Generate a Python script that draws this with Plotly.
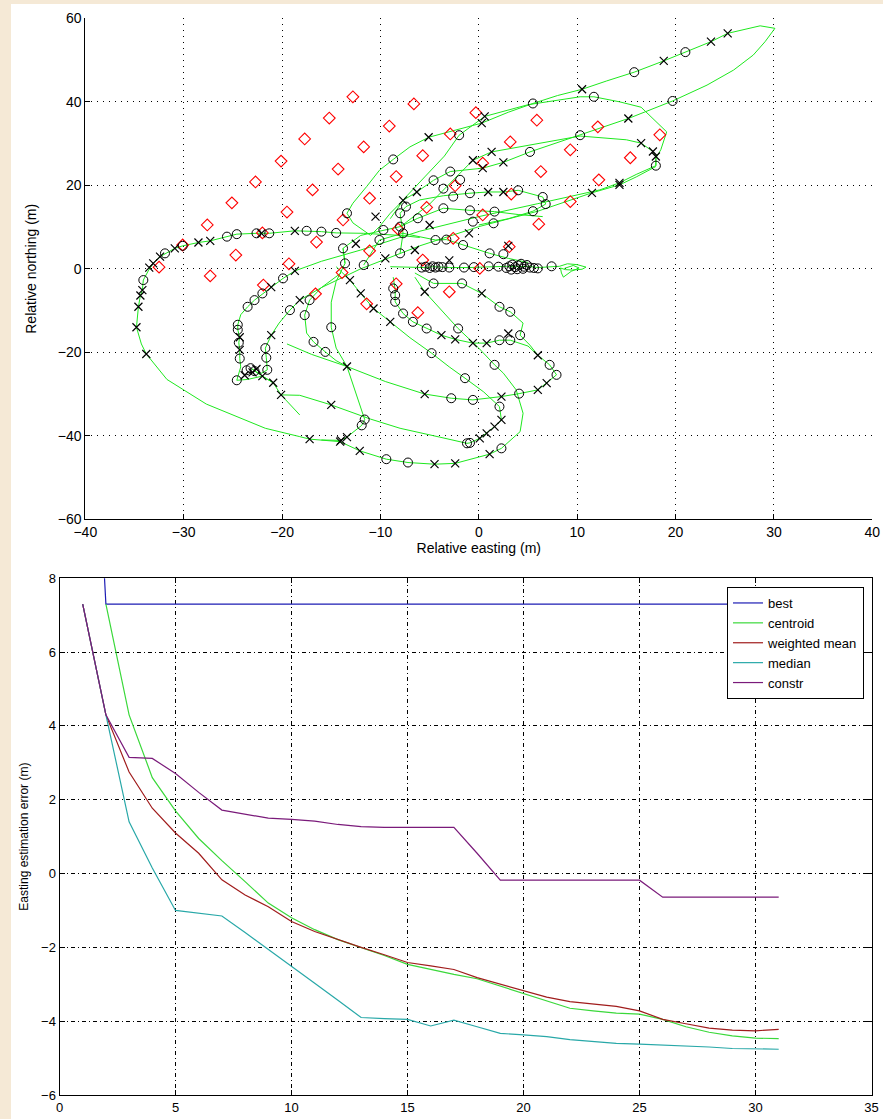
import plotly.graph_objects as go

W, H = 883, 1119

# ---------------- top panel : track (relative easting / northing, m) ----------------
west_loop_e = [-6, -8, -11.7, -14.5, -16, -17.5, -18.7, -21.3, -22.6, -24.6, -25.6, -27.3, -28.5, -30.1, -30.9,
               -31.9, -32.4, -33.1, -33.6, -34.1, -34.2, -34.4, -34.6, -34.8, -34.3, -33.8, -31.7, -27.7, -24.5,
               -21.7, -18.2, -17.2, -14.1, -12.1, -9.4, -7.2, -4.5, -2.4, 1.1, 2.3, 4.2, 4.5, 3.8, 2.5, 1.6, 0,
               -2.1, -4, -5.5, -6.5]
west_loop_n = [7.5, 8, 8.5, 8.6, 8.9, 9.1, 9.1, 8.5, 8.5, 8.3, 7.7, 6.7, 6.3, 5.5, 4.9, 3.7, 2.9, 1.3, -0.5, -2.7,
               -5.1, -6.4, -9.1, -14.0, -18, -20.4, -26.5, -32.4, -35.5, -38.2, -40.2, -40.8, -41.4, -43.6, -45.6,
               -46.4, -46.8, -46.6, -44.4, -43.0, -39.0, -34.6, -29.0, -25, -23, -19, -14.3, -9.5, -5.5, -2]

se_loop_e = [-8.7, -8.5, -8.5, -7.7, -6.7, -5.3, -3.8, -2.4, -0.6, 0.8, 2.1, 3.2, 5.0, 6.0, 7.2, 7.9, 6.9, 6.0,
             4.1, 2.3, -0.6, -2.8, -5.5, -9.5, -13.4, -17.0, -19.5]
se_loop_n = [-2, -5, -7.9, -10.7, -12.7, -14.3, -15.9, -16.9, -17.8, -17.8, -17.1, -17.1, -18.5, -20.7, -23.0,
             -25.4, -27.4, -29.0, -29.9, -30.6, -31.4, -31.0, -30.0, -27.0, -23.4, -20.5, -18.0]

south_loop_e = [-14.5, -13.1, -12.0, -10.7, -9.0, -7.0, -4.8, -3.0, -1.4, 0.5, 2.1, 2.3, 1.6, 0.8, 0.1, -0.9,
                -1.2, -4, -8, -11, -15.0, -18.2, -20.1]
south_loop_n = [0.5, -2.7, -5.9, -9.5, -12.7, -16.5, -20.2, -23.5, -26.2, -29.5, -33.0, -36.2, -37.8, -39.4,
                -40.6, -41.7, -41.8, -40.3, -38.2, -36, -32.6, -30.3, -30.2]

vert_e = [-13.8, -13.6, -14.5, -15.0, -15.0, -14.5, -13.4, -12.5, -11.6, -11.9, -13.4, -14.0, -16.0]
vert_n = [4.9, 1.3, -3, -8, -14.0, -19, -23.4, -30, -36.1, -37.5, -40.3, -41.1, -41.0]

diag1_e = [18.0, 16.0, 14.3, 12.3, 6.0, 0.0, -6.0, -12.0, -16.0, -18.7, -19.9, -21.1, -22.0, -22.8, -23.5,
           -24.2, -24.5, -24.5, -24.3, -24.4, -24.3, -24.3, -24.2, -24.6, -23.5, -22.0, -20.9, -20.1, -18.2]
diag1_n = [24.7, 22.6, 20.6, 18.9, 15.6, 12.5, 9.0, 4.5, 1.8, -0.5, -2.3, -4.4, -5.9, -7.5, -9.1, -11.0, -13.4,
           -14.6, -16.4, -17.7, -19.4, -21.5, -23.5, -26.7, -26.5, -25.7, -27.3, -30.2, -35.0]

diag2_e = [18.0, 16.0, 14.3, 11.5, 6.0, 0.0, -6.0, -12.0, -16.0, -18.2, -19.2, -20.3, -21.1, -21.7, -21.6,
           -21.5, -22.3, -23.1, -22.0, -20.9]
diag2_n = [24.5, 22.0, 20.1, 18.2, 13.8, 10.1, 5.5, 0.0, -4.5, -7.5, -9.9, -13.0, -15.9, -19.0, -21.3, -24.2,
           -25.3, -23.9, -25.7, -27.3]

left_curve_e = [-14.0, -16.0, -17.2, -17.7, -17.5, -16.8, -15.6, -14.5, -13.4]
left_curve_n = [-1.0, -4.5, -7.5, -11.1, -15.4, -17.5, -19.9, -22.0, -23.4]

small_loop_e = [-6.5, -4.6, -1.7, 0.3, 2.1, 3.2, 4.5, 4.2, 5.2, 6.0]
small_loop_n = [-1.0, -3.5, -3.5, -5.9, -9.1, -10.3, -13.0, -15.9, -18.3, -20.7]

ne_trip_e = [-11.0, -12.8, -13.4, -12.8, -11.4, -10.1, -8.7, -7.0, -5.1, -2.0, 0.3, 3.0, 5.5, 8.0, 10.5, 13.0,
             15.8, 18.8, 21.0, 23.6, 25.3, 28.6, 30.1, 29.1, 27.9, 25.9, 23.2, 19.7, 15.2, 10.3, 5.2, 2.5, 0.4,
             -2.9, -4.6, -6.3, -7.7, -9.0, -10.1, -11.0]
ne_trip_n = [8.0, 11.0, 13.3, 15.7, 19.7, 23.6, 26.2, 29.2, 31.5, 33.5, 34.9, 37.5, 39.6, 41.5, 43.0, 45.0, 47.1,
             49.8, 51.9, 54.4, 56.4, 58.2, 57.6, 54.4, 51.2, 47.6, 44.0, 40.2, 36.0, 32.0, 28.0, 25.5, 24.1, 23.3,
             21.2, 18.4, 16.4, 13.3, 10.1, 8.0]

ne_corner_e = [-9.0, -7.5, -5.5, -3.5, -2.0, 0.6, 5.0, 10.3, 11.7, 14.3, 16.5, 19.1, 18.5, 18.0, 18.0]
ne_corner_n = [12.0, 17.0, 22.0, 27.0, 32.0, 36.5, 39.3, 41.2, 41.2, 40.0, 38.7, 32.8, 28.5, 26.5, 24.7]

ne_mid_e = [-8.0, -5.0, -2.5, -0.6, 1.3, 5.0, 10.3, 15.0, 16.5, 17.7, 18.0, 18.0]
ne_mid_n = [10.0, 15.5, 21.5, 26.0, 28.0, 29.5, 31.8, 30.9, 30.1, 28.1, 26.9, 24.7]

arc_q_e = [-8.0, -7.7, -8.0, -7.4, -6.0, -3.6, -0.9, 0.95, 2.5, 4.0, 6.5, 6.8, 5.5, 3.0, 0.0]
arc_q_n = [3.7, 8.5, 13.3, 14.9, 16.5, 17.5, 18.1, 18.4, 18.4, 18.8, 17.2, 15.5, 13.8, 12.0, 10.5]

arc_p_e = [-13.6, -13.8, -12.0, -9.7, -8.0, -6.2, -3.6, -0.9, 1.6, 4.0, 6.5]
arc_p_n = [1.3, 4.9, 8.0, 9.3, 10.1, 12.1, 14.5, 14.0, 13.7, 13.0, 12.5]

arc_r_e = [-11.7, -10.1, -7.7, -4.4, -3.3, -1.6, 1.1, 3.0, 5.0]
arc_r_n = [0.9, 6.9, 8.5, 6.9, 7.0, 5.7, 3.7, 2.5, 1.5]

east_e = [-9.0, -7.0, -5.5, -4.6, -3.0, -1.0, 1.0, 2.8, 3.8, 5.0, 6.0, 7.4, 8.2, 9.0, 10.0, 10.9, 10.5, 9.5,
          8.8, 8.3, 8.4, 8.6, 9.4, 10.2, 9.6, 8.7]
east_n = [0.5, 0.3, 0.3, 0.5, 0.3, 0.3, 0.5, 0.6, 0.5, 0.6, 0.3, 0.5, 0.6, 1.2, 1.0, 0.4, -0.1, -0.3, -0.2, 0.2,
          -1.0, -2.0, -0.6, 0.2, 0.8, 0.1]

circle_e = [-16, -17.5, -21.3, -22.6, -24.6, -25.6, -30.1, -31.9, -34.1, -9.4, -7.2, 2.3, -14.5,
            -8.5, -8.5, -8.7, -7.7, -6.7, -5.3, 2.1, 3.2, 7.2, 7.9, 4.1, -0.6, -2.8,
            -4.8, -1.4, 2.1, -0.9, -1.2,
            -15.0, -11.6, -11.9, -13.8, -13.6,
            -19.9, -22.0, -22.8, -23.5, -24.5, -24.5, -24.4, -24.3, -24.6, -23.2, -22.8, -23.6,
            -19.2, -21.7, -21.6, -21.5,
            -17.2, -17.7, -16.8, -15.6,
            -4.6, -1.7, 2.1, 3.2, 4.2,
            1.6, -2.1,
            -13.4, -8.7, 5.5, 15.8, 21.0, 19.7, 10.3, 5.2, -2.9, -4.6,
            -2.0, 11.7, 18.0,
            -8.0, -7.7, -8.0, -7.4, -3.6, -0.9, 4.0, 6.5, 6.8, 5.5, -2.6, -1.9,
            -9.7, -8.0, -6.2, -3.6, -0.9, 1.6, 1.5, -0.6,
            -10.1, -4.4, -3.3, -1.6, 1.1, 2.5,
            -5.8, -5.4, -5.0, -4.7, -4.4, -4.1, -3.7, -3.0, -1.5, -0.5,
            2.8, 3.1, 3.4, 3.7, 4.0, 4.3, 4.6, 4.9, 5.2, 3.3, 3.9, 4.5, 5.6, 6.0, 7.4, 1.0, 2.0,
            -11.7]
circle_n = [8.9, 9.1, 8.5, 8.5, 8.3, 7.7, 5.5, 3.7, -2.7, -45.6, -46.4, -43.0, 8.6,
            -7.9, -6.3, -4.7, -10.7, -12.7, -14.3, -17.1, -17.1, -23.0, -25.4, -29.9, -31.4, -31.0,
            -20.2, -26.2, -33.0, -41.7, -41.8,
            -14.0, -36.1, -37.5, 4.9, 1.3,
            -2.3, -5.9, -7.5, -9.1, -13.4, -14.6, -17.7, -21.5, -26.7, -23.8, -24.5, -24.3,
            -9.9, -19.0, -21.3, -24.2,
            -7.5, -11.1, -17.5, -19.9,
            -3.5, -3.5, -9.1, -10.3, -15.9,
            -23.0, -14.3,
            13.3, 26.2, 39.6, 47.1, 51.9, 40.2, 32.0, 28.0, 23.3, 21.2,
            32.0, 41.2, 24.7,
            3.7, 8.5, 13.3, 14.9, 19.2, 18.1, 18.8, 17.2, 15.5, 13.8, 17.3, 21.3,
            9.3, 10.1, 12.1, 14.5, 14.0, 13.7, 10.9, 11.3,
            6.9, 6.9, 7.0, 5.7, 3.7, 3.5,
            0.3, 0.5, 0.2, 0.6, 0.3, 0.5, 0.4, 0.3, 0.3, 0.4,
            0.2, 0.6, 1.0, 0.4, 0.8, 1.2, 0.5, 0.9, 0.3, -0.2, -0.1, 0.0, 0.2, 0.1, 0.6, 0.6, 0.5,
            0.9]

cross_e = [-18.7, -22.1, -27.3, -28.5, -30.9, -32.4, -33.1, -33.5, -34.2, -34.4, -34.6, -34.8, -33.8, -17.2,
           -14.1, -12.1, -4.5, -2.4, 1.1, -5.5,
           -3.8, -2.4, -0.6, 0.8, 6.0, 6.9, 6.0, 2.3, -5.5, -13.4,
           -13.1, -12.0, -10.7, -9.0, 2.3, 1.6, 0.8, 0.1, -15.0,
           -13.4, -14.0,
           -18.7, -21.1, -24.3, -24.3, -22.0, -20.9, -20.1, 14.3, -23.0, -23.8, -22.6,
           -18.2, -21.1, 11.5, 14.3,
           0.3, 3.0,
           -5.1, 0.3, 10.5, 18.8, 23.6, 25.3, 15.2, 2.5, 0.4, -6.3, -7.7,
           0.6,
           -0.6, 1.3, 16.5, 17.7, 18.0,
           0.95, 2.5,
           -6.5, -9.5, -12.5, -5.0, -1.0, 3.0, -3.0, -10.5]
cross_n = [9.1, 8.5, 6.7, 6.3, 4.9, 2.9, 1.3, 0.3, -5.1, -6.4, -9.1, -14.0, -20.4, -40.8,
           -41.4, -43.6, -46.8, -46.6, -44.4, -5.5,
           -15.9, -16.9, -17.8, -17.8, -20.7, -27.4, -29.0, -30.6, -30.0, -23.4,
           -2.7, -5.9, -9.5, -12.7, -36.2, -37.8, -39.4, -40.6, -32.6,
           -40.3, -41.1,
           -0.5, -4.4, -16.4, -19.4, -25.7, -27.3, -30.2, 20.6, -24.8, -25.5, -24.0,
           -7.5, -15.9, 18.2, 20.1,
           -5.9, -15.5,
           31.5, 34.9, 43.0, 49.8, 54.4, 56.4, 36.0, 25.5, 24.1, 18.4, 16.4,
           36.5,
           26.0, 28.0, 30.1, 28.1, 26.9,
           18.4, 18.4,
           4.5, 2.5, 6.0, 10.5, 8.5, 5.5, 2.0, 12.5]

diamond_e = [-32.5, -30.1, -27.6, -25.1, -22.7, -20.1, -17.7, -15.2, -12.8,
             -27.3, -24.7, -22.0, -19.5, -16.9, -14.3, -11.7, -9.1, -6.6,
             -21.9, -19.3, -16.5, -13.8, -11.1, -8.4, -5.7, -2.9, -0.3,
             -16.6, -13.9, -11.1, -8.2, -5.3, -2.4, 0.4, 3.2, 5.9,
             -11.4, -8.4, -5.7, -2.6, 0.4, 3.3, 6.3, 9.3, 12.1,
             -6.2, -3.0, 0.1, 3.1, 6.1, 9.3, 12.2, 15.4, 18.4]
diamond_n = [0.4, 5.7, 10.5, 15.8, 20.8, 25.8, 31.1, 36.1, 41.2,
             -1.7, 3.3, 8.6, 13.6, 18.9, 23.9, 29.2, 34.2, 39.5,
             -3.9, 1.2, 6.4, 11.7, 16.9, 22.1, 27.1, 32.3, 37.4,
             -6.0, -0.9, 4.3, 9.5, 14.7, 19.9, 25.3, 30.4, 35.6,
             -8.4, -3.6, 2.1, 7.3, 12.9, 17.9, 23.3, 28.5, 34.0,
             -10.5, -5.5, 0.1, 5.3, 10.7, 16.1, 21.3, 26.6, 32.1]

# ---------------- bottom panel : easting estimation error ----------------
n_all = [1, 2, 3, 4, 5, 6, 7, 8, 9, 10, 11, 12, 13, 14, 15, 16, 17, 18, 19, 20, 21, 22, 23, 24, 25, 26, 27,
         28, 29, 30, 31]
n_from2 = n_all[1:]
best = [19.0, 7.3, 7.3, 7.3, 7.3, 7.3, 7.3, 7.3, 7.3, 7.3, 7.3, 7.3, 7.3, 7.3, 7.3, 7.3, 7.3, 7.3, 7.3, 7.3,
        7.3, 7.3, 7.3, 7.3, 7.3, 7.3, 7.3, 7.3, 7.3, 7.3, 7.3]
centroid = [7.3, 4.3, 2.6, 1.7, 0.95, 0.35, -0.22, -0.8, -1.2, -1.52, -1.79, -2.0, -2.22, -2.46, -2.6, -2.73,
            -2.85, -3.05, -3.27, -3.47, -3.65, -3.72, -3.78, -3.81, -3.95, -4.15, -4.3, -4.4, -4.46, -4.47]
weighted_mean = [7.3, 4.3, 2.75, 1.77, 1.1, 0.55, -0.17, -0.58, -0.9, -1.3, -1.57, -1.79, -2.0, -2.2, -2.41,
                 -2.5, -2.6, -2.82, -3.0, -3.18, -3.35, -3.47, -3.53, -3.6, -3.72, -3.95, -4.07, -4.19, -4.24,
                 -4.26, -4.22]
median = [7.3, 4.3, 1.4, 0.15, -1.0, -1.08, -1.15, -1.6, -2.05, -2.5, -2.97, -3.43, -3.9, -3.93, -3.95, -4.13,
          -3.97, -4.15, -4.33, -4.37, -4.42, -4.5, -4.56, -4.6, -4.62, -4.64, -4.67, -4.7, -4.74, -4.75, -4.76]
constr = [7.3, 4.3, 3.15, 3.12, 2.71, 2.2, 1.72, 1.6, 1.5, 1.47, 1.42, 1.33, 1.27, 1.25, 1.25, 1.25, 1.25, 0.55,
          -0.18, -0.18, -0.18, -0.18, -0.18, -0.18, -0.18, -0.64, -0.64, -0.64, -0.64, -0.64, -0.64]

FONT = "Liberation Sans, Arial, Helvetica, sans-serif"
GREEN = "#1ee81e"

fig = go.Figure()

tracks = [
    (west_loop_e, west_loop_n), (se_loop_e, se_loop_n), (south_loop_e, south_loop_n), (vert_e, vert_n),
    (diag1_e, diag1_n), (diag2_e, diag2_n), (left_curve_e, left_curve_n), (small_loop_e, small_loop_n),
    (ne_trip_e, ne_trip_n), (ne_corner_e, ne_corner_n), (ne_mid_e, ne_mid_n), (arc_q_e, arc_q_n),
    (arc_p_e, arc_p_n), (arc_r_e, arc_r_n), (east_e, east_n),
]
for te, tn in tracks:
    fig.add_trace(go.Scatter(x=te, y=tn, mode="lines", line=dict(color=GREEN, width=1),
                             xaxis="x", yaxis="y", showlegend=False, hoverinfo="skip"))

fig.add_trace(go.Scatter(x=diamond_e, y=diamond_n, mode="markers", xaxis="x", yaxis="y", showlegend=False,
                         marker=dict(symbol="diamond-open", size=9, color="red", line=dict(width=1.1, color="red"))))
fig.add_trace(go.Scatter(x=circle_e, y=circle_n, mode="markers", xaxis="x", yaxis="y", showlegend=False,
                         marker=dict(symbol="circle-open", size=9, color="black", line=dict(width=1, color="black"))))
fig.add_trace(go.Scatter(x=cross_e, y=cross_n, mode="markers", xaxis="x", yaxis="y", showlegend=False,
                         marker=dict(symbol="x-thin-open", size=8, color="black", line=dict(width=1.2, color="black"))))

# bottom
series = [
    ("best", n_all, best, "#1c1cb4"),
    ("centroid", n_from2, centroid, "#3ad83a"),
    ("weighted mean", n_all, weighted_mean, "#a01c1c"),
    ("median", n_all, median, "#28a8a8"),
    ("constr", n_all, constr, "#7a1a7a"),
]
for name, xs, ys, col in series:
    fig.add_trace(go.Scatter(x=xs, y=ys, mode="lines", name=name, line=dict(color=col, width=1.2),
                             xaxis="x2", yaxis="y2"))

top_dom_x = [85.3 / W, 872.3 / W]
top_dom_y = [1 - 519.3 / H, 1 - 18.3 / H]
bot_dom_x = [59.5 / W, 871.5 / W]
bot_dom_y = [1 - 1095 / H, 1 - 578.3 / H]

axis_common = dict(showline=True, linecolor="black", linewidth=1, ticks="inside", ticklen=5, tickcolor="black",
                   zeroline=False, showgrid=True, gridcolor="black", gridwidth=1, automargin=False)

fig.update_layout(
    width=W, height=H,
    margin=dict(l=0, r=0, t=0, b=0),
    paper_bgcolor="#f5e9d6",
    plot_bgcolor="white",
    font=dict(family=FONT, color="black"),
    shapes=[dict(type="rect", xref="paper", yref="paper", x0=11 / W, x1=1, y0=0, y1=1 - 4 / H,
                 fillcolor="white", line=dict(width=0), layer="below")],
    xaxis=dict(domain=top_dom_x, range=[-40, 40], dtick=10, anchor="y", griddash="1px,5px", mirror=False,
               tickfont=dict(size=14), title=dict(text="Relative easting (m)", font=dict(size=14), standoff=4),
               **axis_common),
    yaxis=dict(domain=top_dom_y, range=[-60, 60], dtick=20, anchor="x", griddash="1px,5px", mirror=False,
               tickfont=dict(size=14), title=dict(text="Relative northing (m)", font=dict(size=14), standoff=17),
               **axis_common),
    xaxis2=dict(domain=bot_dom_x, range=[0, 35], dtick=5, anchor="y2", griddash="4px,3px,1px,3px",
                mirror="ticks", tickfont=dict(size=13), **axis_common),
    yaxis2=dict(domain=bot_dom_y, range=[-6, 8], dtick=2, anchor="x2", griddash="4px,3px,1px,3px",
                mirror="ticks", tickfont=dict(size=13),
                title=dict(text="Easting estimation error (m)", font=dict(size=12), standoff=9),
                **axis_common),
    legend=dict(x=864 / W, y=1 - 587 / H, xanchor="right", yanchor="top", bgcolor="white",
                bordercolor="black", borderwidth=1, font=dict(size=13, family=FONT),
                tracegroupgap=0, itemwidth=30),
)

fig.write_html("out.html")
